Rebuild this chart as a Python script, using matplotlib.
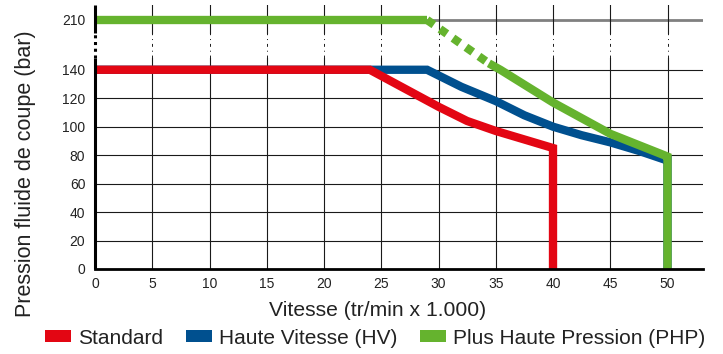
import numpy as np
import matplotlib
matplotlib.use('Agg')
import matplotlib.pyplot as plt
from matplotlib.patches import Patch

plt.rcParams['font.family'] = ['Liberation Sans', 'DejaVu Sans']

# ---- data ----
std_x = [0, 24, 27, 30, 32.5, 35, 40, 40]
std_y = [140, 140, 127, 114, 104, 97, 85, 0]

hv_x = [0, 29, 32, 35, 37.5, 40, 42.5, 45, 47.5, 49.7, 50, 50]
hv_y = [140, 140, 128, 118, 108, 100, 94, 89, 83, 77, 77, 0]

php_x = [0, 29]
php_y = [210, 210]
php_dot_x = [29, 34.4]
php_dot_y = [210, 149]
php_sol_x = [34.4, 35.4, 40, 45, 49.7, 50, 50]
php_sol_y = [149, 140, 117, 95, 80, 79, 0]

x_ticks = [0, 5, 10, 15, 20, 25, 30, 35, 40, 45, 50]
y_ticks = [0, 20, 40, 60, 80, 100, 120, 140, 210]
y_break = (157, 192)

series_names = ['Standard', 'Haute Vitesse (HV)', 'Plus Haute Pression (PHP)']
colors = ['#e30613', '#00508f', '#65b32e']

x_label = 'Vitesse (tr/min x 1.000)'
y_label = 'Pression fluide de coupe (bar)'


def fwd(v):
    v = np.asarray(v, dtype=float)
    return np.where(v <= 140, v, 140 + (v - 140) * 0.5)


def inv(d):
    d = np.asarray(d, dtype=float)
    return np.where(d <= 140, d, 140 + (d - 140) * 2.0)


W, H = 723, 354
fig = plt.figure(figsize=(W / 100, H / 100), dpi=100)
ax = fig.add_axes([95 / W, 1 - 269 / H, (703 - 95) / W, (269 - 5) / H])
ax.set_yscale('function', functions=(fwd, inv))
ax.set_xlim(0, 53.1)
ax.set_ylim(0, 231)

# grid: horizontal
grid_c = '#1a1a1a'
for v in y_ticks[1:-1]:
    ax.axhline(v, color=grid_c, lw=0.8, zorder=1)
ax.axhline(y_ticks[-1], color='#808080', lw=2.0, zorder=1)

# grid: vertical with broken section
ytop = ax.get_ylim()[1]
for xv in x_ticks[1:]:
    ax.plot([xv, xv], [0, y_break[0]], color=grid_c, lw=0.8, zorder=1)
    ax.plot([xv, xv], [y_break[1], ytop], color=grid_c, lw=0.8, zorder=1)
    ax.plot([xv, xv], [y_break[0], y_break[1]], color=grid_c, lw=0.7,
            ls=(0, (3, 4, 1, 4)), zorder=1)

# left spine with break
for sp in ['left', 'top', 'right']:
    ax.spines[sp].set_visible(False)
ax.spines['bottom'].set_linewidth(2.0)
ax.spines['bottom'].set_zorder(5)
ax.plot([0, 0], [0, y_break[0]], color='black', lw=2.2, clip_on=False,
        zorder=5, solid_capstyle='butt')
ax.plot([0, 0], [y_break[1], ytop], color='black', lw=2.2, clip_on=False,
        zorder=5, solid_capstyle='butt')
ax.plot([0, 0], [y_break[0], y_break[1]], color='black', lw=2.2,
        ls=(0, (1, 1.2)), clip_on=False, zorder=5)

lw = 6
ax.plot(hv_x, hv_y, color=colors[1], lw=lw, solid_capstyle='butt',
        solid_joinstyle='miter', zorder=3)
ax.plot(std_x, std_y, color=colors[0], lw=lw, solid_capstyle='butt',
        solid_joinstyle='miter', zorder=3.5)
ax.plot(php_x, php_y, color=colors[2], lw=lw, solid_capstyle='butt',
        solid_joinstyle='miter', zorder=4)
ax.plot(php_dot_x, php_dot_y, color=colors[2], lw=lw, ls=(0, (1, 0.9)),
        dash_capstyle='butt', zorder=4)
ax.plot(php_sol_x, php_sol_y, color=colors[2], lw=lw, solid_capstyle='butt',
        solid_joinstyle='miter', zorder=4)

ax.set_xticks(x_ticks)
ax.set_xticklabels([str(t) for t in x_ticks])
ax.set_yticks(y_ticks)
ax.set_yticklabels([str(t) for t in y_ticks])
ax.yaxis.set_minor_locator(matplotlib.ticker.NullLocator())
ax.tick_params(axis='both', length=0, labelsize=10, colors='#222222')
ax.tick_params(axis='x', pad=6)
ax.tick_params(axis='y', pad=7)

ax.set_xlabel(x_label, fontsize=15.2, color='#222222')
ax.xaxis.set_label_coords((378 - 95) / 608, (269 - 301) / 264)
ax.set_ylabel(y_label, fontsize=15.5, color='#222222')
ax.yaxis.set_label_coords((36 - 95) / 608, (269 - 174) / 264)

handles = [Patch(facecolor=c, edgecolor='none') for c in colors]
fig.legend(handles, series_names, loc='center',
           bbox_to_anchor=(375 / W, 1 - 338 / H), ncol=3, frameon=False,
           fontsize=15, handlelength=1.25, handleheight=0.5,
           handletextpad=0.33, columnspacing=1.1, labelcolor='#222222',
           borderpad=0, borderaxespad=0)

fig.savefig('out.png', dpi=100)
